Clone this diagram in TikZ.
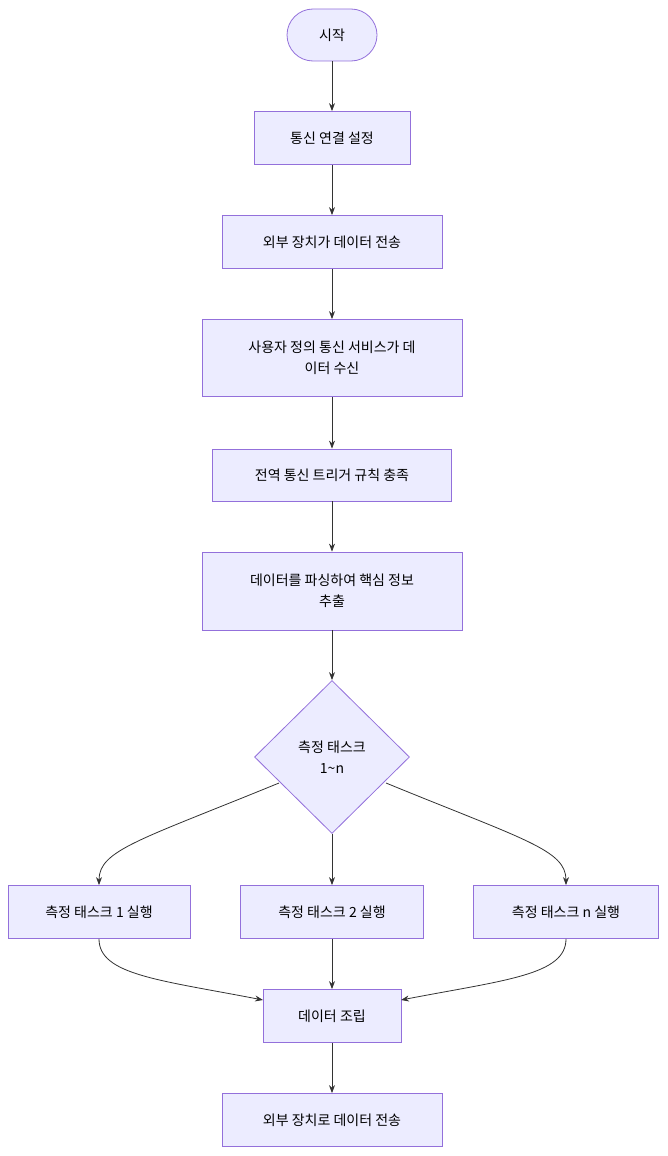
\documentclass[tikz,border=0pt]{standalone}
\usepackage{fontspec}
\setmainfont{Noto Sans CJK KR}
\usetikzlibrary{shapes.geometric,arrows.meta}
\definecolor{nf}{HTML}{ECECFF}
\definecolor{ns}{HTML}{9370DB}
\definecolor{ln}{HTML}{333333}
\begin{document}
\begin{tikzpicture}[x=1pt,y=-1pt,
  box/.style={draw=ns,fill=nf,line width=0.8pt,font=\fontsize{14}{21}\selectfont,align=center,inner sep=0pt},
  arr/.style={draw=ln,line width=0.8pt,-{Stealth[length=8pt,width=6pt]}}]
\useasboundingbox (0,0) rectangle (668,1156);
\node[box,rounded corners=26pt,minimum width=90pt,minimum height=52pt] (s) at (332,35) {시작};
\node[box,minimum width=156pt,minimum height=53pt] (n1) at (332,138) {통신 연결 설정};
\node[box,minimum width=220pt,minimum height=53pt] (n2) at (332,242) {외부 장치가 데이터 전송};
\node[box,minimum width=260pt,minimum height=77pt] (n3) at (332,358) {사용자 정의 통신 서비스가 데\\이터 수신};
\node[box,minimum width=239pt,minimum height=52pt] (n4) at (332,475) {전역 통신 트리거 규칙 충족};
\node[box,minimum width=260pt,minimum height=78pt] (n5) at (332,591) {데이터를 파싱하여 핵심 정보\\추출};
\node[box,diamond,minimum width=155pt,minimum height=153pt] (d) at (332,757) {측정 태스크\\1\textasciitilde n};
\node[box,minimum width=182pt,minimum height=53pt] (t1) at (99,912) {측정 태스크 1 실행};
\node[box,minimum width=183pt,minimum height=53pt] (t2) at (332,912) {측정 태스크 2 실행};
\node[box,minimum width=185pt,minimum height=53pt] (t3) at (566,912) {측정 태스크 n 실행};
\node[box,minimum width=138pt,minimum height=53pt] (a) at (332,1016) {데이터 조립};
\node[box,minimum width=220pt,minimum height=53pt] (e) at (332,1120) {외부 장치로 데이터 전송};
\draw[arr] (s) -- (n1);
\draw[arr] (n1) -- (n2);
\draw[arr] (n2) -- (n3);
\draw[arr] (n3) -- (n4);
\draw[arr] (n4) -- (n5);
\draw[arr] (n5) -- (d);
\coordinate (dl) at (279,783);
\coordinate (dr) at (386,783);
\draw[arr] (dl) .. controls (140,840) and (99,850) .. (t1.north);
\draw[arr] (d.south) -- (t2.north);
\draw[arr] (dr) .. controls (525,840) and (566,850) .. (t3.north);
\coordinate (al) at (263,1000);
\coordinate (ar) at (401,1000);
\draw[arr] (t1.south) .. controls (99,975) and (160,980) .. (al);
\draw[arr] (t2.south) -- (a.north);
\draw[arr] (t3.south) .. controls (566,975) and (505,980) .. (ar);
\draw[arr] (a) -- (e);
\end{tikzpicture}
\end{document}
